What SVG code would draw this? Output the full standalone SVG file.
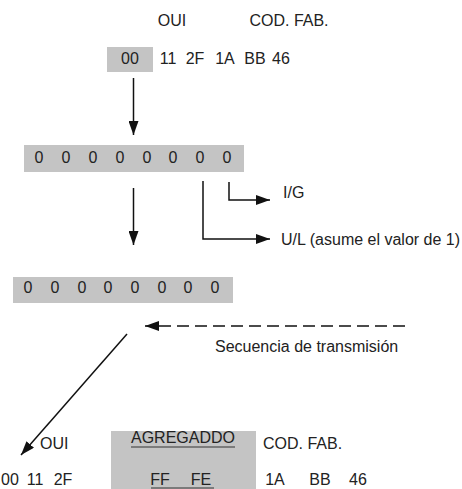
<svg xmlns="http://www.w3.org/2000/svg" width="462" height="489" viewBox="0 0 462 489">
  <defs>
    <marker id="head" viewBox="0 0 14 10" refX="14" refY="5" markerWidth="14" markerHeight="10" markerUnits="userSpaceOnUse" orient="auto">
      <path d="M0,0 L14,5 L0,10 Z" fill="#111"/>
    </marker>
    <style>
      text { font-family: "Liberation Sans", Arial, sans-serif; font-size: 16px; fill: #222; }
      .mid { text-anchor: middle; }
      .box { fill: #c4c4c4; }
      .wire { fill: none; stroke: #111; stroke-width: 1.5; }
      .ul { stroke: #333; stroke-width: 1.2; }
    </style>
  </defs>
  <rect width="462" height="489" fill="#fff"/>

  <!-- MAC address as transmitted -->
  <g id="mac-top">
    <text x="172" y="26" class="mid">OUI</text>
    <text x="289" y="26" class="mid">COD. FAB.</text>
    <rect class="box" x="107" y="47" width="46" height="25"/>
    <text x="130" y="64" class="mid">00</text>
    <text x="168" y="64" class="mid">11</text>
    <text x="195" y="64" class="mid">2F</text>
    <text x="225" y="64" class="mid">1A</text>
    <text x="255" y="64" class="mid">BB</text>
    <text x="281" y="64" class="mid">46</text>
  </g>

  <!-- first octet in bits -->
  <g id="bits-first">
    <rect class="box" x="24" y="145" width="220" height="27"/>
    <text x="39" y="163" class="mid">0</text>
    <text x="66" y="163" class="mid">0</text>
    <text x="93" y="163" class="mid">0</text>
    <text x="120" y="163" class="mid">0</text>
    <text x="147" y="163" class="mid">0</text>
    <text x="173" y="163" class="mid">0</text>
    <text x="200" y="163" class="mid">0</text>
    <text x="227" y="163" class="mid">0</text>
  </g>

  <g id="label-ig">
    <text x="283" y="198">I/G</text>
  </g>
  <g id="label-ul">
    <text x="281" y="245">U/L (asume el valor de 1)</text>
  </g>

  <!-- first octet after U/L is set -->
  <g id="bits-second">
    <rect class="box" x="13" y="277" width="220" height="26"/>
    <text x="28" y="293" class="mid">0</text>
    <text x="55" y="293" class="mid">0</text>
    <text x="82" y="293" class="mid">0</text>
    <text x="108" y="293" class="mid">0</text>
    <text x="135" y="293" class="mid">0</text>
    <text x="162" y="293" class="mid">0</text>
    <text x="188" y="293" class="mid">0</text>
    <text x="215" y="293" class="mid">0</text>
  </g>

  <g id="label-transmision">
    <text x="215" y="352">Secuencia de transmisión</text>
  </g>

  <!-- EUI-64 result -->
  <g id="eui64">
    <text x="40" y="449">OUI</text>
    <rect class="box" x="111" y="431" width="145" height="58"/>
    <text x="183" y="443" class="mid">AGREGADDO</text>
    <line class="ul" x1="131" y1="447" x2="235" y2="447"/>
    <text x="160" y="485" class="mid">FF</text>
    <text x="201" y="485" class="mid">FE</text>
    <line class="ul" x1="151" y1="488" x2="214" y2="488"/>
    <text x="263" y="449">COD. FAB.</text>
    <text x="10" y="485" class="mid">00</text>
    <text x="35" y="485" class="mid">11</text>
    <text x="63" y="485" class="mid">2F</text>
    <text x="275" y="485" class="mid">1A</text>
    <text x="320" y="485" class="mid">BB</text>
    <text x="358" y="485" class="mid">46</text>
  </g>

  <!-- connectors -->
  <g id="connectors">
    <line class="wire" x1="133.5" y1="78" x2="133.5" y2="135" marker-end="url(#head)"/>
    <line class="wire" x1="133.5" y1="188" x2="133.5" y2="245" marker-end="url(#head)"/>
    <polyline class="wire" points="229,182 229,200 270,200" marker-end="url(#head)"/>
    <polyline class="wire" points="203,181 203,239 270,239" marker-end="url(#head)"/>
    <line class="wire" x1="405" y1="326" x2="145" y2="326" stroke-dasharray="12 6" marker-end="url(#head)"/>
    <line class="wire" x1="127" y1="334" x2="21" y2="455" marker-end="url(#head)"/>
  </g>
</svg>
